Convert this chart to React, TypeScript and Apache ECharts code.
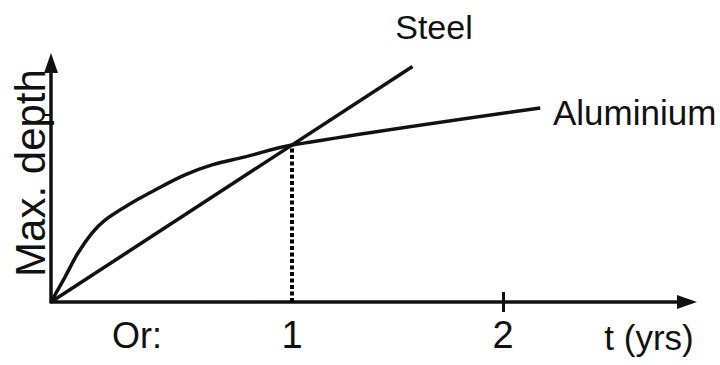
import React, { useEffect, useRef } from "react";
import * as echarts from "echarts";

// Data (x in years, y in relative depth units; sketch scale)
const steelX = [0, 1.5];
const steelY = [0, 1.5];
const aluX = [0, 0.058, 0.112, 0.17, 0.224, 0.32, 0.432, 0.556, 0.668, 0.805, 1.0, 2.03];
const aluY = [0, 0.159, 0.312, 0.439, 0.522, 0.618, 0.713, 0.809, 0.873, 0.924, 1.0, 1.236];
const dropX = [1, 1];
const dropY = [0, 1];
const xTickPositions = [1, 1.876];
const xTickLabels = ["1", "2"];
const xMarkTicks = [1.876];
const yMarkTicks = [1.19];
const X_MAX = 2.639;
const Y_MAX = 1.522;

const FONT = "'Liberation Sans', Arial, sans-serif";
const INK = "#111";

export default function App() {
  const ref = useRef<HTMLDivElement>(null);
  useEffect(() => {
    if (!ref.current) return;
    const chart = echarts.init(ref.current, undefined, { renderer: "svg" });
    const zip = (xs: number[], ys: number[]) => xs.map((x, i) => [x, ys[i]]);
    chart.setOption({
      animation: false,
      backgroundColor: "#fff",
      grid: { left: 51, right: 33, top: 63, bottom: 63 },
      xAxis: [
        {
          type: "value",
          min: 0,
          max: X_MAX,
          position: "bottom",
          axisLine: {
            show: true,
            lineStyle: { color: INK, width: 3.5 },
            symbol: ["none", "triangle"],
            symbolSize: [14, 20],
          },
          axisTick: { show: true, customValues: xMarkTicks, length: 10, lineStyle: { color: INK, width: 3 } },
          axisLabel: {
            show: true,
            customValues: xTickPositions,
            formatter: (v: number) => {
              const i = xTickPositions.findIndex((p) => Math.abs(p - v) < 1e-6);
              return i >= 0 ? xTickLabels[i] : "";
            },
            fontFamily: FONT,
            fontSize: 38,
            color: INK,
            margin: 14,
          },
          splitLine: { show: false },
        },
        {
          type: "value",
          min: 0,
          max: X_MAX,
          position: "bottom",
          axisLine: { show: false },
          axisTick: { show: true, inside: true, customValues: xMarkTicks, length: 10, lineStyle: { color: INK, width: 3 } },
          axisLabel: { show: false },
          splitLine: { show: false },
        },
      ],
      yAxis: {
        type: "value",
        min: 0,
        max: Y_MAX,
        axisLine: {
          show: true,
          lineStyle: { color: INK, width: 3.5 },
          symbol: ["none", "triangle"],
          symbolSize: [14, 20],
        },
        axisTick: { show: true, customValues: yMarkTicks, length: 7, lineStyle: { color: INK, width: 2 } },
        axisLabel: { show: false },
        splitLine: { show: false },
      },
      series: [
        {
          type: "line",
          data: zip(steelX, steelY),
          showSymbol: false,
          symbol: "none",
          lineStyle: { color: INK, width: 3.5 },
        },
        {
          type: "line",
          data: zip(aluX, aluY),
          showSymbol: false,
          symbol: "none",
          smooth: 0.35,
          lineStyle: { color: INK, width: 3.5 },
        },
        {
          type: "line",
          data: zip(dropX, dropY),
          showSymbol: false,
          symbol: "none",
          lineStyle: { color: "#000", width: 4, type: [4, 2.5] },
        },
      ],
      graphic: [
        {
          type: "text",
          x: 434,
          y: 27,
          style: { text: "Steel", font: `34px ${FONT}`, fill: INK, align: "center", verticalAlign: "middle" },
        },
        {
          type: "text",
          x: 553,
          y: 112,
          style: { text: "Aluminium", font: `35px ${FONT}`, fill: INK, align: "left", verticalAlign: "middle" },
        },
        {
          type: "text",
          x: 30,
          y: 173,
          rotation: Math.PI / 2,
          style: { text: "Max. depth", font: `42px ${FONT}`, fill: INK, align: "center", verticalAlign: "middle" },
        },
        {
          type: "text",
          x: 137,
          y: 335,
          style: { text: "Or:", font: `36px ${FONT}`, fill: INK, align: "center", verticalAlign: "middle" },
        },
        {
          type: "text",
          x: 649,
          y: 337,
          style: { text: "t (yrs)", font: `35px ${FONT}`, fill: INK, align: "center", verticalAlign: "middle" },
        },
      ],
    });
    return () => chart.dispose();
  }, []);
  return (
    <div
      ref={ref}
      style={{ position: "fixed", left: 0, top: 0, width: 720, height: 365, background: "#fff" }}
    />
  );
}
